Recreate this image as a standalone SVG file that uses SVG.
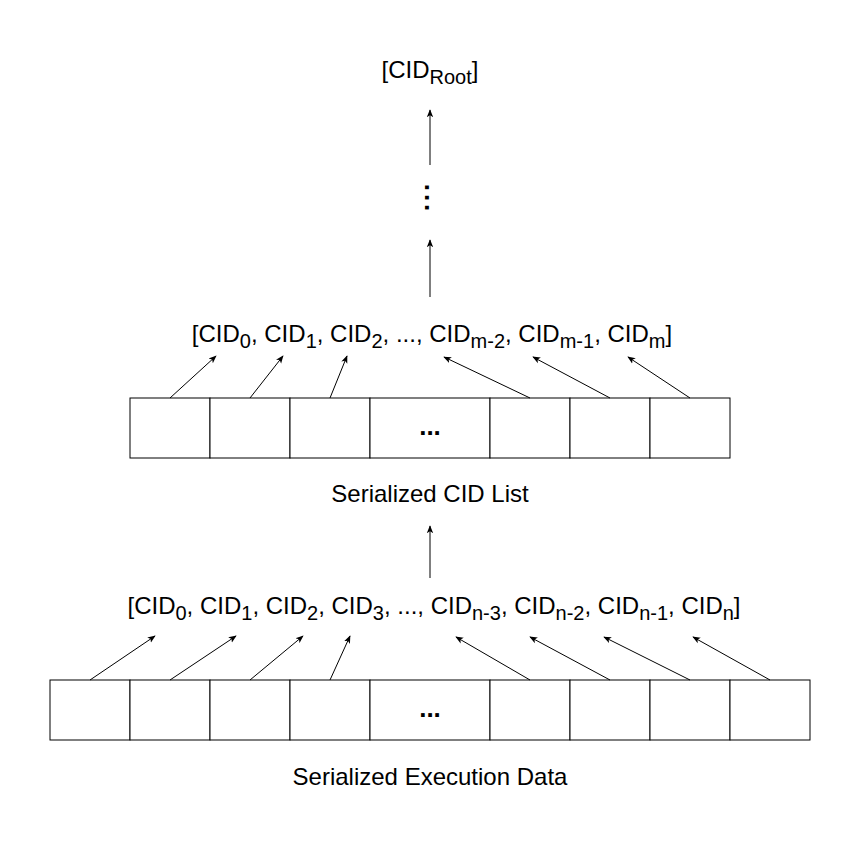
<svg xmlns="http://www.w3.org/2000/svg" width="861" height="844" viewBox="0 0 861 844">
<style>
text{font-family:"Liberation Sans",Arial,Helvetica,sans-serif;fill:#000}
.lbl{font-size:24px}
.cap{font-size:24px;text-anchor:middle}
.cell{fill:#fff;stroke:#000;stroke-width:1}
.dots{font-size:26px;font-weight:bold;text-anchor:middle}
.ar{stroke:#000;stroke-width:1;fill:none;marker-end:url(#ah)}
</style>
<defs>
<marker id="ah" viewBox="0 0 10 10" refX="9" refY="5" markerWidth="8" markerHeight="8" markerUnits="userSpaceOnUse" orient="auto">
<path d="M0,1 L10,5 L0,9 L2.5,5 Z" fill="#000"/>
</marker>
</defs>
<rect width="861" height="844" fill="#fff"/>

<g id="root">
<text class="lbl" x="430" y="78" text-anchor="middle">[CID<tspan font-size="20" dy="6">Root</tspan><tspan dy="-6">]</tspan></text>
</g>
<g id="vdots">
<text class="dots" font-size="28" letter-spacing="3" transform="translate(425,199) rotate(90)">...</text>
</g>

<g id="cidlist">
<text class="lbl" x="432" y="342" text-anchor="middle">[CID<tspan font-size="20" dy="6">0</tspan><tspan dy="-6">, CID</tspan><tspan font-size="20" dy="6">1</tspan><tspan dy="-6">, CID</tspan><tspan font-size="20" dy="6">2</tspan><tspan dy="-6">, ..., CID</tspan><tspan font-size="20" dy="6">m-2</tspan><tspan dy="-6">, CID</tspan><tspan font-size="20" dy="6">m-1</tspan><tspan dy="-6">, CID</tspan><tspan font-size="20" dy="6">m</tspan><tspan dy="-6">]</tspan></text>
</g>

<g id="cidrow">
<rect class="cell" x="130" y="398" width="80" height="60"/>
<rect class="cell" x="210" y="398" width="80" height="60"/>
<rect class="cell" x="290" y="398" width="80" height="60"/>
<rect class="cell" x="370" y="398" width="120" height="60"/>
<rect class="cell" x="490" y="398" width="80" height="60"/>
<rect class="cell" x="570" y="398" width="80" height="60"/>
<rect class="cell" x="650" y="398" width="80" height="60"/>
<text class="dots" x="430" y="435">...</text>
</g>
<g id="cidcap"><text class="cap" x="430" y="502">Serialized CID List</text></g>

<g id="execlist">
<text class="lbl" x="434" y="614" text-anchor="middle">[CID<tspan font-size="20" dy="6">0</tspan><tspan dy="-6">, CID</tspan><tspan font-size="20" dy="6">1</tspan><tspan dy="-6">, CID</tspan><tspan font-size="20" dy="6">2</tspan><tspan dy="-6">, CID</tspan><tspan font-size="20" dy="6">3</tspan><tspan dy="-6">, ..., CID</tspan><tspan font-size="20" dy="6">n-3</tspan><tspan dy="-6">, CID</tspan><tspan font-size="20" dy="6">n-2</tspan><tspan dy="-6">, CID</tspan><tspan font-size="20" dy="6">n-1</tspan><tspan dy="-6">, CID</tspan><tspan font-size="20" dy="6">n</tspan><tspan dy="-6">]</tspan></text>
</g>

<g id="execrow">
<rect class="cell" x="50" y="680" width="80" height="60"/>
<rect class="cell" x="130" y="680" width="80" height="60"/>
<rect class="cell" x="210" y="680" width="80" height="60"/>
<rect class="cell" x="290" y="680" width="80" height="60"/>
<rect class="cell" x="370" y="680" width="120" height="60"/>
<rect class="cell" x="490" y="680" width="80" height="60"/>
<rect class="cell" x="570" y="680" width="80" height="60"/>
<rect class="cell" x="650" y="680" width="80" height="60"/>
<rect class="cell" x="730" y="680" width="80" height="60"/>
<text class="dots" x="430" y="717">...</text>
</g>
<g id="execcap"><text class="cap" x="430" y="785">Serialized Execution Data</text></g>

<g id="connectors">
<line class="ar" x1="430" y1="165" x2="430" y2="110"/>
<line class="ar" x1="430" y1="297" x2="430" y2="240"/>
<line class="ar" x1="430" y1="578" x2="430" y2="526"/>

<line class="ar" x1="170" y1="398" x2="216" y2="356"/>
<line class="ar" x1="250" y1="398" x2="283" y2="356"/>
<line class="ar" x1="330" y1="398" x2="347" y2="356"/>
<line class="ar" x1="530" y1="398" x2="444" y2="357"/>
<line class="ar" x1="610" y1="398" x2="533" y2="357"/>
<line class="ar" x1="690" y1="398" x2="628" y2="357"/>

<line class="ar" x1="90" y1="680" x2="155" y2="636"/>
<line class="ar" x1="170" y1="680" x2="236" y2="636"/>
<line class="ar" x1="250" y1="680" x2="303" y2="636"/>
<line class="ar" x1="330" y1="680" x2="350" y2="636"/>
<line class="ar" x1="530" y1="680" x2="456" y2="637"/>
<line class="ar" x1="610" y1="680" x2="530" y2="637"/>
<line class="ar" x1="690" y1="680" x2="604" y2="637"/>
<line class="ar" x1="770" y1="680" x2="693" y2="637"/>
</g>
</svg>
